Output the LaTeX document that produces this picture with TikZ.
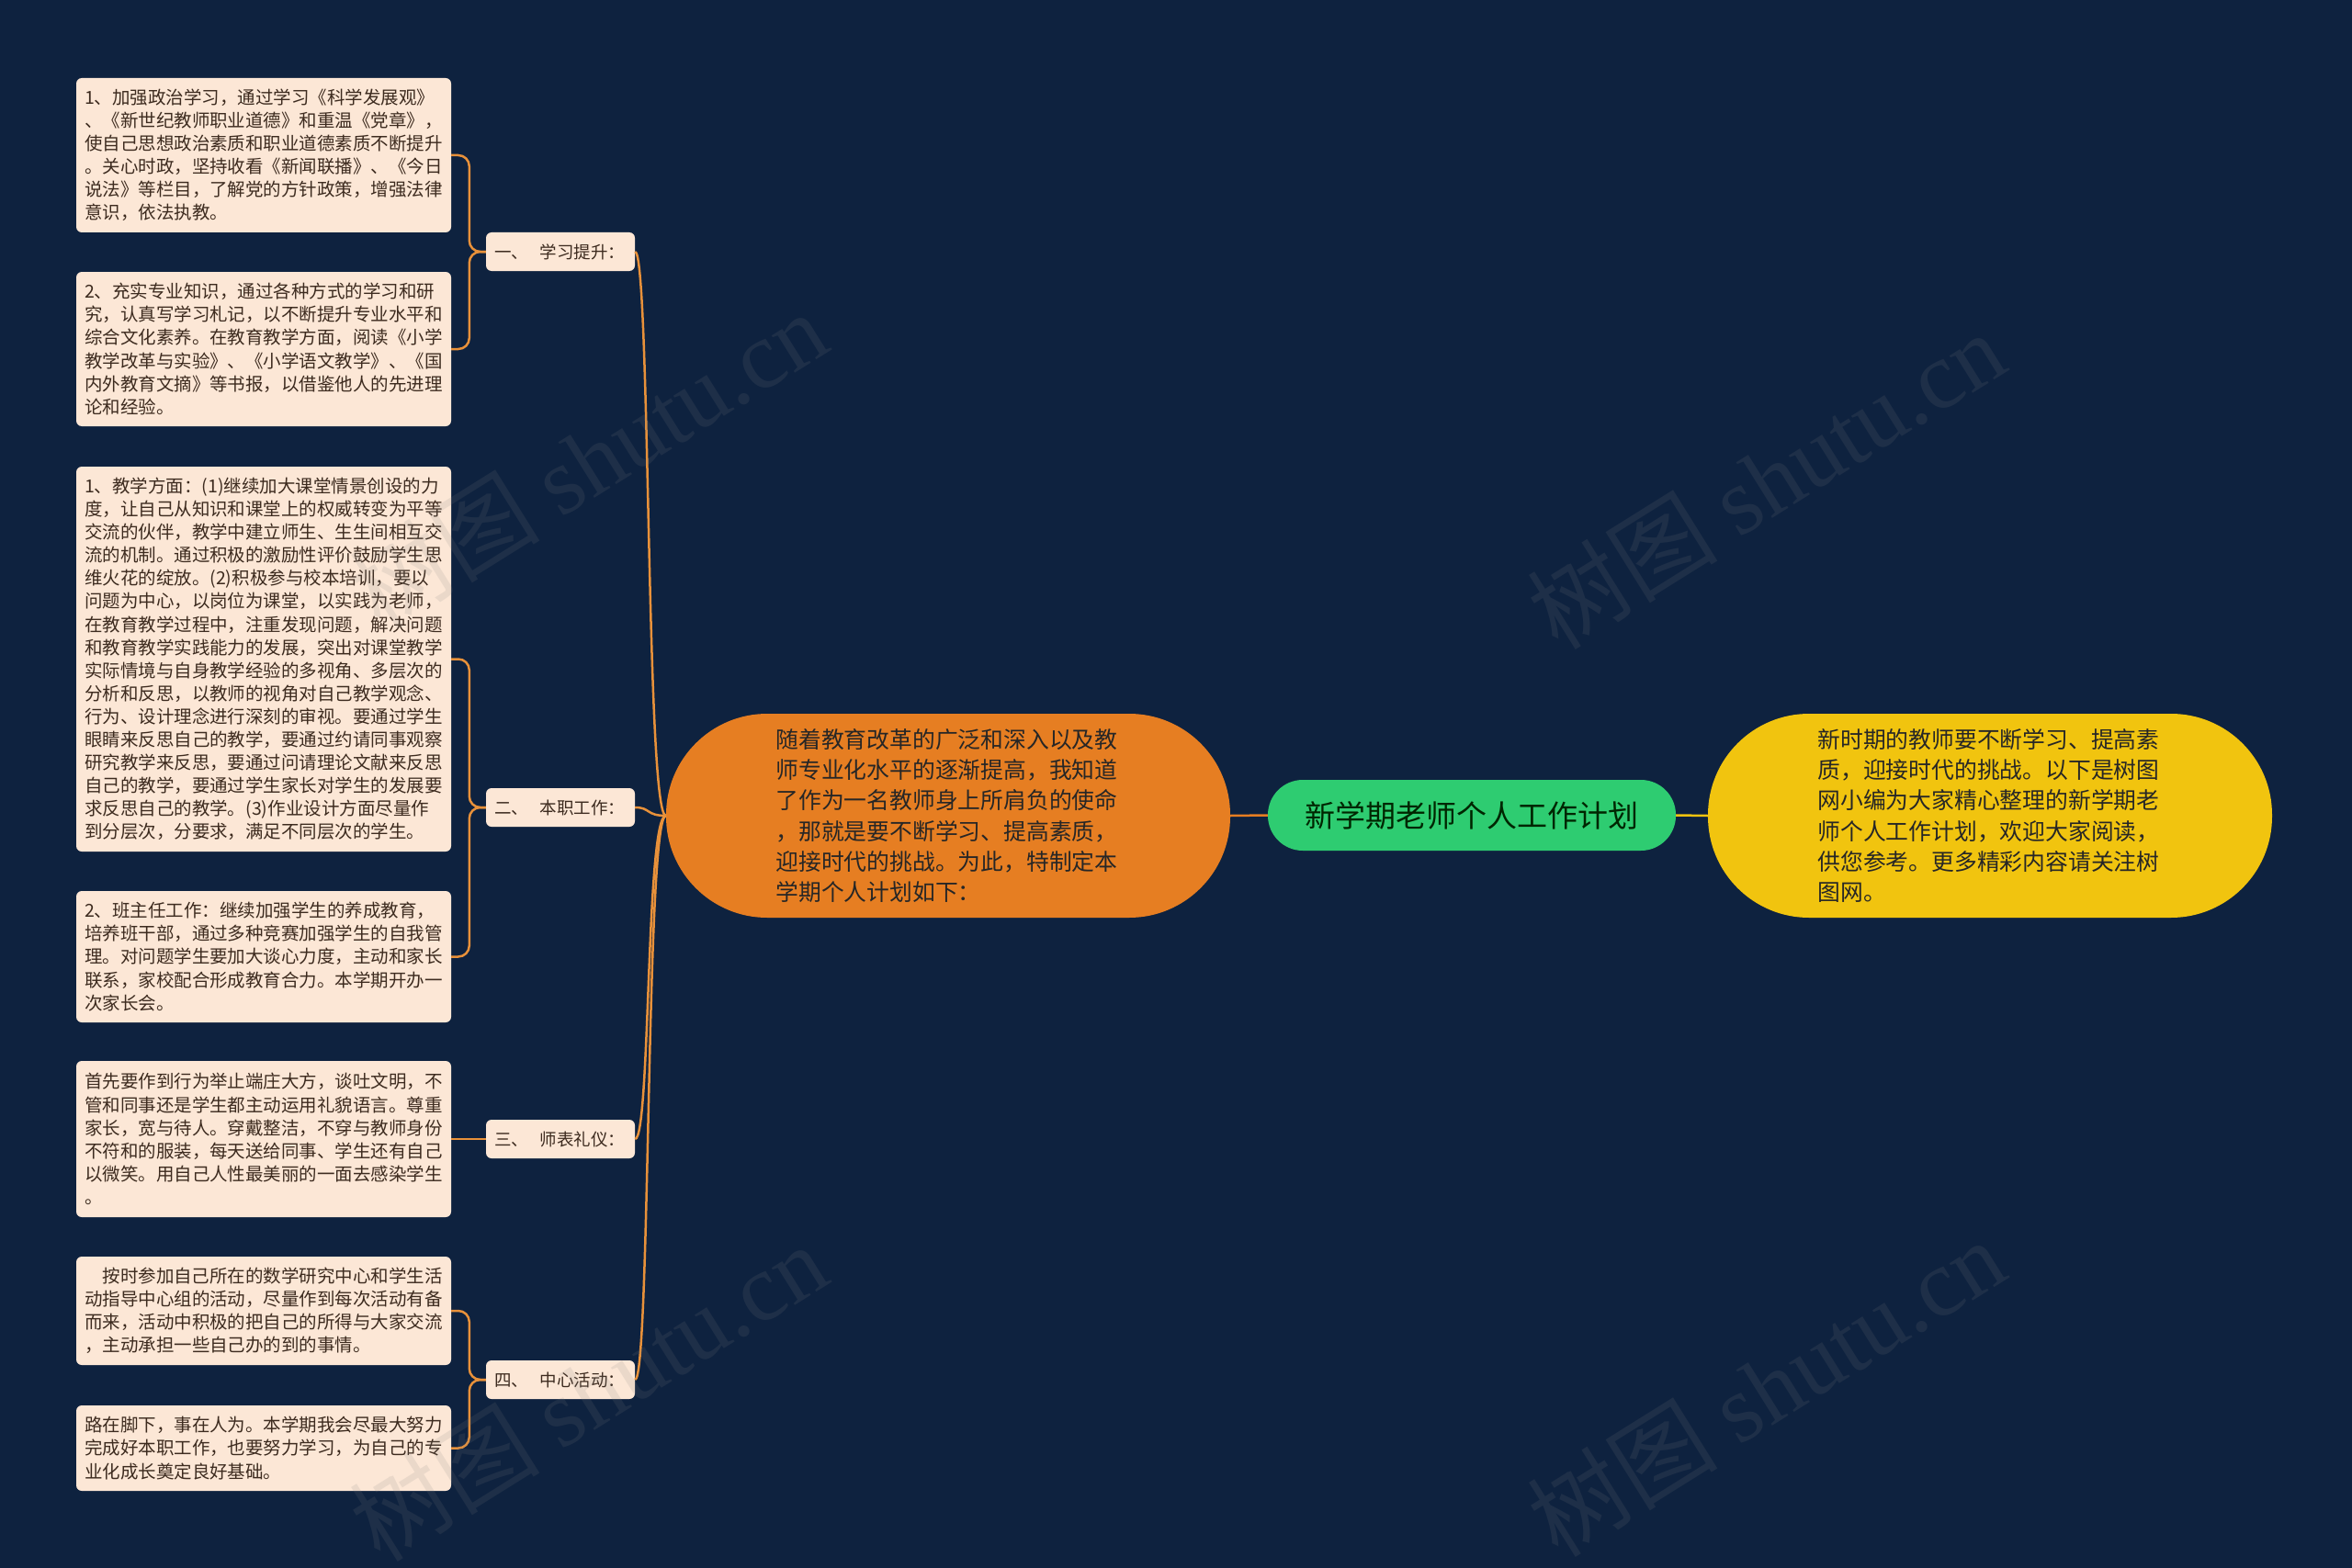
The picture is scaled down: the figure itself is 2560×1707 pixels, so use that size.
\documentclass[tikz,border=0pt]{standalone}
\usepackage{fontspec}
\setmainfont{Noto Sans CJK SC}
\newfontfamily\wmlatin{Liberation Serif}
\definecolor{bg}{HTML}{0E223F}
\definecolor{leaffill}{HTML}{FCE7D6}
\definecolor{leaftext}{HTML}{3D2B1F}
\definecolor{linkc}{HTML}{E8913A}
\definecolor{orangec}{HTML}{E67E22}
\definecolor{yellowc}{HTML}{F1C40F}
\definecolor{greenc}{HTML}{2ECC71}
\tikzset{
  leaf/.style={fill=leaffill, rounded corners=6pt, text=leaftext,
    font=\fontsize{19.5}{25.1}\selectfont, text width=390pt, align=left,
    inner xsep=9pt, inner ysep=0pt},
  branchbox/.style={fill=leaffill, rounded corners=6pt, text=leaftext,
    font=\fontsize{18.5}{21}\selectfont, text width=144pt, align=left,
    inner xsep=9pt, inner ysep=0pt, minimum height=42pt},
  bubble/.style={minimum width=614pt, minimum height=222pt, rounded corners=110pt,
    font=\fontsize{24.8}{33.3}\selectfont, text width=375pt, align=left, inner sep=0pt},
  link/.style={draw=linkc, line width=2.5pt},
  bracket/.style={draw=linkc, line width=2.5pt, rounded corners=12pt},
  wm/.style={rotate=32, text=gray, opacity=0.14, font=\fontsize{104}{104}\selectfont}
}
\begin{document}
\begin{tikzpicture}[x=1pt,y=-1pt]
\fill[bg] (0,0) rectangle (2560,1707);
\useasboundingbox (0,0) rectangle (2560,1707);

% central and right nodes
\node[bubble, fill=orangec, text=black!85] (o) at (1032,888) {随着教育改革的广泛和深入以及教\\师专业化水平的逐渐提高，我知道\\了作为一名教师身上所肩负的使命\\，那就是要不断学习、提高素质，\\迎接时代的挑战。为此，特制定本\\学期个人计划如下：};
\node[fill=greenc, rounded corners=38pt, minimum width=444pt, minimum height=77pt, inner sep=0pt,
  text=black!85!green, font=\fontsize{33}{36}\selectfont] (r) at (1602,887.5) {新学期老师个人工作计划};
\node[bubble, fill=yellowc, text=black!85] (y) at (2166,888) {新时期的教师要不断学习、提高素\\质，迎接时代的挑战。以下是树图\\网小编为大家精心整理的新学期老\\师个人工作计划，欢迎大家阅读，\\供您参考。更多精彩内容请关注树\\图网。};

% branches
\node[branchbox] (b1) at (610,274) {一、\hspace{0.7em}学习提升：};
\node[branchbox] (b2) at (610,879) {二、\hspace{0.7em}本职工作：};
\node[branchbox] (b3) at (610,1240) {三、\hspace{0.7em}师表礼仪：};
\node[branchbox] (b4) at (610,1502) {四、\hspace{0.7em}中心活动：};

% leaves
\node[leaf, minimum height=168pt] (l1) at (287,169) {1、加强政治学习，通过学习《科学发展观》\\、《新世纪教师职业道德》和重温《党章》，\\使自己思想政治素质和职业道德素质不断提升\\。关心时政，坚持收看《新闻联播》、《今日\\说法》等栏目，了解党的方针政策，增强法律\\意识，依法执教。};
\node[leaf, minimum height=168pt] (l2) at (287,380) {2、充实专业知识，通过各种方式的学习和研\\究，认真写学习札记，以不断提升专业水平和\\综合文化素养。在教育教学方面，阅读《小学\\教学改革与实验》、《小学语文教学》、《国\\内外教育文摘》等书报，以借鉴他人的先进理\\论和经验。};
\node[leaf, minimum height=419pt] (l3) at (287,717.5) {1、教学方面：(1)继续加大课堂情景创设的力\\度，让自己从知识和课堂上的权威转变为平等\\交流的伙伴，教学中建立师生、生生间相互交\\流的机制。通过积极的激励性评价鼓励学生思\\维火花的绽放。(2)积极参与校本培训，要以\\问题为中心，以岗位为课堂，以实践为老师，\\在教育教学过程中，注重发现问题，解决问题\\和教育教学实践能力的发展，突出对课堂教学\\实际情境与自身教学经验的多视角、多层次的\\分析和反思，以教师的视角对自己教学观念、\\行为、设计理念进行深刻的审视。要通过学生\\眼睛来反思自己的教学，要通过约请同事观察\\研究教学来反思，要通过问请理论文献来反思\\自己的教学，要通过学生家长对学生的发展要\\求反思自己的教学。(3)作业设计方面尽量作\\到分层次，分要求，满足不同层次的学生。};
\node[leaf, minimum height=143pt] (l4) at (287,1041.5) {2、班主任工作：继续加强学生的养成教育，\\培养班干部，通过多种竞赛加强学生的自我管\\理。对问题学生要加大谈心力度，主动和家长\\联系，家校配合形成教育合力。本学期开办一\\次家长会。};
\node[leaf, minimum height=170pt] (l5) at (287,1240) {首先要作到行为举止端庄大方，谈吐文明，不\\管和同事还是学生都主动运用礼貌语言。尊重\\家长，宽与待人。穿戴整洁，不穿与教师身份\\不符和的服装，每天送给同事、学生还有自己\\以微笑。用自己人性最美丽的一面去感染学生\\。};
\node[leaf, minimum height=118pt] (l6) at (287,1427) {\hspace*{1em}按时参加自己所在的数学研究中心和学生活\\动指导中心组的活动，尽量作到每次活动有备\\而来，活动中积极的把自己的所得与大家交流\\，主动承担一些自己办的到的事情。};
\node[leaf, minimum height=93pt] (l7) at (287,1576.5) {路在脚下，事在人为。本学期我会尽最大努力\\完成好本职工作，也要努力学习，为自己的专\\业化成长奠定良好基础。};

% connectors
\draw[draw=orangec, line width=2.5pt] (o.east) -- (r.west);
\draw[draw=yellowc, line width=2.5pt] (r.east) -- (y.west);
\foreach \b in {b1,b2,b3,b4}
  \draw[link] (o.west) .. controls +(-22,0) and +(17,0) .. (\b.east);
\draw[bracket] (b1.west) -- ++(-18,0) |- (l1.east);
\draw[bracket] (b1.west) -- ++(-18,0) |- (l2.east);
\draw[bracket] (b2.west) -- ++(-18,0) |- (l3.east);
\draw[bracket] (b2.west) -- ++(-18,0) |- (l4.east);
\draw[link] (b3.west) -- (l5.east);
\draw[bracket] (b4.west) -- ++(-18,0) |- (l6.east);
\draw[bracket] (b4.west) -- ++(-18,0) |- (l7.east);

% watermarks
\node[wm] (w1) at (640,500) {树图 {\wmlatin shutu.cn}};
\node[wm] (w2) at (1922,522) {树图 {\wmlatin shutu.cn}};
\node[wm] (w3) at (640,1515) {树图 {\wmlatin shutu.cn}};
\node[wm] (w4) at (1922,1510) {树图 {\wmlatin shutu.cn}};
\end{tikzpicture}
\end{document}
